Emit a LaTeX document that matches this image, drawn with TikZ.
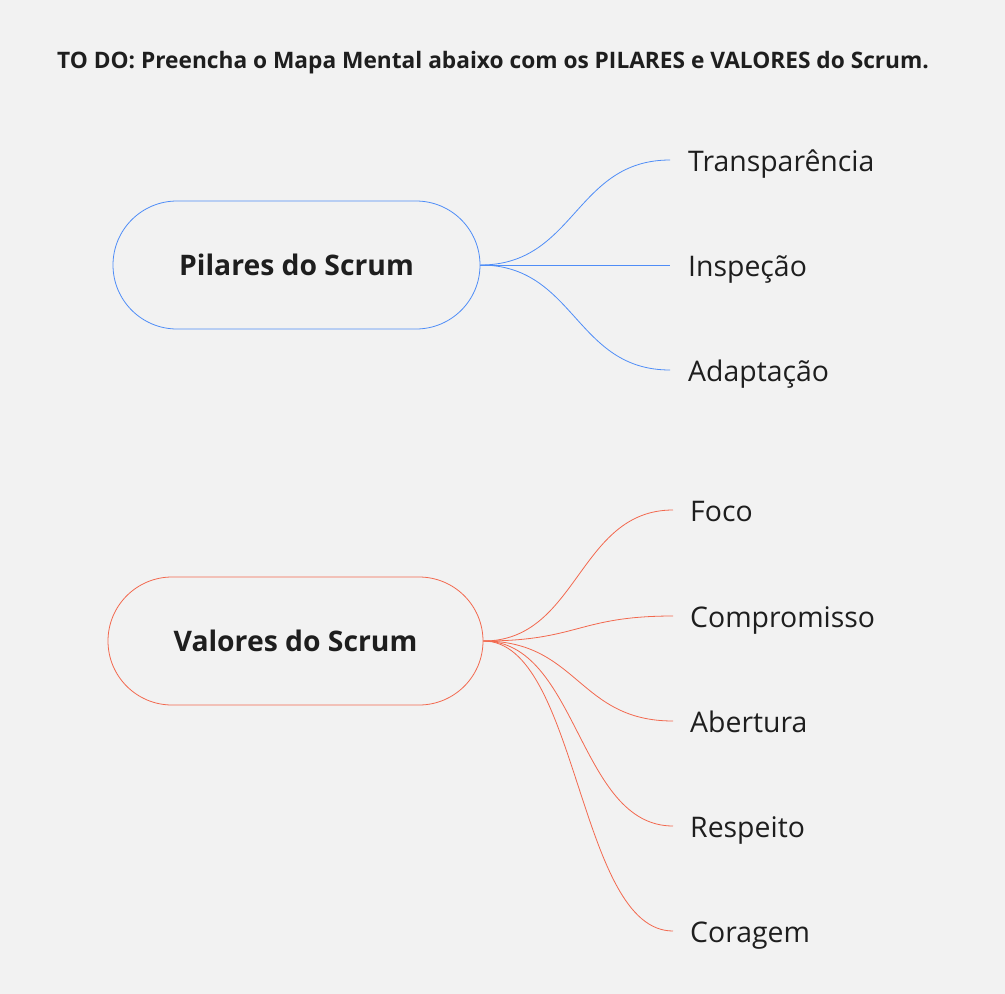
\documentclass[tikz,border=0pt]{standalone}
\usepackage{fontspec}
\setmainfont{Open Sans}
\usetikzlibrary{shapes.misc}
\definecolor{bg}{HTML}{F2F2F2}
\definecolor{bluel}{HTML}{4F8DF7}
\definecolor{redl}{HTML}{F2694F}
\definecolor{txt}{HTML}{1E1E1E}
\tikzset{
  rootbox/.style={draw, rounded rectangle, line width=0.8pt, minimum width=#1, minimum height=128pt, inner sep=0pt, font=\fontsize{28.3}{34}\selectfont\bfseries, text=txt},
  leaf/.style={anchor=base west, inner sep=0pt, font=\fontsize{28.4}{34}\selectfont, text=txt},
  conn/.style={line width=0.8pt},
}
\begin{document}
\begin{tikzpicture}[x=1pt,y=-1pt]
\fill[bg] (0,0) rectangle (1005,994);
\useasboundingbox (0,0) rectangle (1005,994);
\node[anchor=base west, inner sep=0pt, font=\fontsize{22.7}{27}\selectfont\bfseries, text=txt] (title) at (57,68) {TO DO: Preencha o Mapa Mental abaixo com os PILARES e VALORES do Scrum.};

% Pilares
\node[rootbox=367pt, bluel] (p) at (296.5,265) {\textcolor{txt}{Pilares do Scrum}};
\coordinate (p1) at (670,160);
\coordinate (p2) at (670,265);
\coordinate (p3) at (670,370);
\node[leaf] (t1) at (688,171.5) {Transparência};
\node[leaf] (t2) at (688,276.5) {Inspeção};
\node[leaf] (t3) at (688,381) {Adaptação};
\foreach \c in {p1,p2,p3}
  \draw[conn, bluel] (p.east) .. controls ([xshift=95pt]p.east) and ([xshift=-95pt]\c) .. (\c);

% Valores
\node[rootbox=375pt, redl] (v) at (295.5,641) {\textcolor{txt}{Valores do Scrum}};
\coordinate (v1) at (673,510);
\coordinate (v2) at (673,616);
\coordinate (v3) at (673,721);
\coordinate (v4) at (673,826);
\coordinate (v5) at (673,931);
\node[leaf] (u1) at (690,521.5) {Foco};
\node[leaf] (u2) at (690,627.5) {Compromisso};
\node[leaf] (u3) at (690,732.5) {Abertura};
\node[leaf] (u4) at (690,837.5) {Respeito};
\node[leaf] (u5) at (690,942.5) {Coragem};
\foreach \c in {v1,v2,v3,v4,v5}
  \draw[conn, redl] (v.east) .. controls ([xshift=95pt]v.east) and ([xshift=-95pt]\c) .. (\c);
\end{tikzpicture}
\end{document}
